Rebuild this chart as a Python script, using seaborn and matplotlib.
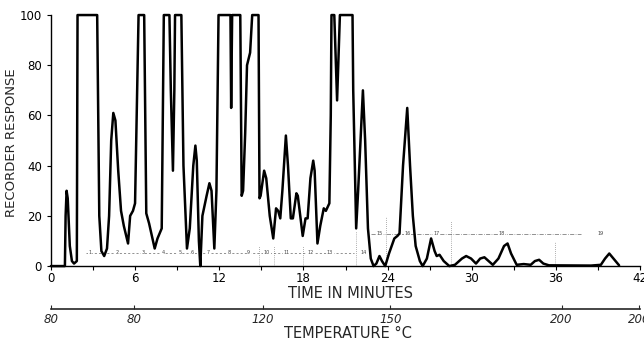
import numpy as np
import pandas as pd
import matplotlib
matplotlib.use("Agg")
import matplotlib.pyplot as plt
import seaborn as sns

# ---- data (time in minutes, recorder response) ----
time_min = [0, 1.0, 1.05, 1.12, 1.2, 1.35, 1.5, 1.65, 1.85, 1.9, 3.3, 3.45, 3.6, 3.8, 4.0, 4.15,
            4.3, 4.45, 4.6, 4.8, 5.0, 5.2, 5.5, 5.65, 5.85, 6.0, 6.25, 6.65, 6.8, 7.0, 7.2, 7.4,
            7.6, 7.9, 8.05, 8.45, 8.55, 8.7, 8.8, 8.85, 9.3, 9.45, 9.7, 9.9, 10.15, 10.3, 10.4,
            10.55, 10.65, 10.8, 11.1, 11.3, 11.45, 11.65, 11.8, 11.95, 12.8, 12.85, 12.92, 13.5,
            13.6, 13.7, 13.85, 13.98, 14.2, 14.35, 14.8, 14.87, 14.95, 15.2, 15.35, 15.6, 15.85,
            16.05, 16.2, 16.35, 16.5, 16.75, 16.9, 17.1, 17.25, 17.5, 17.6, 17.95, 18.15, 18.3,
            18.5, 18.7, 18.8, 19.0, 19.2, 19.45, 19.6, 19.85, 19.95, 20.0, 20.2, 20.4, 20.6,
            21.5, 21.55, 21.76, 21.9, 22.24, 22.4, 22.6, 22.8, 23.0, 23.2, 23.42, 23.6, 23.83,
            24.1, 24.48, 24.7, 24.85, 25.1, 25.4, 25.6, 25.8, 26.0, 26.3, 26.5, 26.8, 27.1,
            27.35, 27.5, 27.7, 28.0, 28.4, 28.8, 29.3, 29.6, 29.95, 30.3, 30.6, 30.9, 31.2,
            31.5, 31.9, 32.3, 32.55, 32.8, 33.2, 33.7, 34.2, 34.5, 34.8, 35.1, 35.5, 38.5,
            39.2, 39.5, 39.8, 40.1, 40.5]
response = [0, 0, 20, 30, 27, 8, 2, 1, 2, 100, 100, 20, 6, 4, 7, 20,
            50, 61, 58, 38, 22, 16, 9, 20, 22, 25, 100, 100, 21, 17, 12, 7,
            11, 15, 100, 100, 70, 38, 70, 100, 100, 40, 7, 15, 40, 48, 42,
            10, 0, 20, 28, 33, 30, 7, 30, 100, 100, 63, 100, 100,
            28, 30, 53, 80, 85, 100, 100, 27, 28, 38, 35, 20, 11,
            23, 22, 19, 30, 52, 40, 19, 19, 29, 28, 12, 19, 19,
            35, 42, 38, 9, 16, 23, 22, 25, 60, 100, 100, 66, 100,
            100, 70, 15, 30, 70, 50, 15, 3, 0, 1, 4, 2, 0,
            5, 11, 12, 13, 40, 63, 40, 20, 8, 2, 0, 3, 11,
            6, 4, 4.5, 2, 0, 0.5, 3, 4, 3, 1, 3, 3.5, 2,
            0.5, 3, 8, 9, 5, 0.5, 0.8, 0.5, 2, 2.5, 1, 0.3, 0.2,
            0.5, 3, 5, 3, 0.3]

time_ticks = [0, 6, 12, 18, 24, 30, 36, 42]
resp_ticks = [0, 20, 40, 60, 80, 100]
temp_tick_pos = [0, 5.9, 15.1, 24.2, 36.4, 41.9]
temp_tick_labels = ["80", "80", "120", "150", "200", "200"]

# fraction markers (faint dashed annotations)
frac_low_pos = [2.8, 4.7, 6.6, 8.0, 9.2, 10.1, 11.2, 12.7, 14.1, 15.4, 16.8, 18.5, 19.9, 22.3]
frac_low_lab = ["1", "2", "3", "4", "5", "6", "7", "8", "9", "10", "11", "12", "13", "14"]
frac_high_pos = [23.4, 25.4, 27.5, 32.1, 39.2]
frac_high_lab = ["15", "16", "17", "18", "19"]
frac_vlines = [14.85, 15.9, 17.95, 21.76, 23.9, 28.5, 35.9]
frac_vtops = [8, 8, 8, 14, 20, 18, 10]

df = pd.DataFrame({"time": time_min, "resp": response})

sns.set_theme(style="white")
plt.rcParams["font.family"] = ["DejaVu Sans"]

fig = plt.figure(figsize=(6.44, 3.42), dpi=100)
ax = fig.add_axes([0.079, 0.222, 0.915, 0.734])

sns.lineplot(data=df, x="time", y="resp", ax=ax, color="black", linewidth=1.8,
             estimator=None, sort=False, clip_on=False)

# faint fraction annotations
ax.plot([frac_low_pos[0] - 0.3, 21.6], [5.3, 5.3], color="#666666", lw=0.5,
        ls=(0, (3, 3)), zorder=1)
ax.plot([22.8, 37.8], [12.8, 12.8], color="#666666", lw=0.5, ls=(0, (6, 2, 1, 2)), zorder=1)
for p, l in zip(frac_low_pos, frac_low_lab):
    ax.text(p, 5.3, l, fontsize=3.5, ha="center", va="center", color="#444444",
            bbox=dict(fc="white", ec="none", pad=0.3))
for p, l in zip(frac_high_pos, frac_high_lab):
    ax.text(p, 12.8, l, fontsize=3.5, ha="center", va="center", color="#444444",
            bbox=dict(fc="white", ec="none", pad=0.3))
for p, t in zip(frac_vlines, frac_vtops):
    ax.plot([p, p], [0, t], color="#666666", lw=0.5, ls=(0, (1, 2)), zorder=1)

ax.set_xlim(0, 42)
ax.set_ylim(0, 100)
ax.set_xticks(time_ticks)
ax.set_xticks(np.arange(0, 43, 3), minor=True)
ax.set_yticks(resp_ticks)
ax.tick_params(axis="both", which="both", direction="out", length=3, width=0.8,
               colors="black", labelsize=8.5, bottom=True, left=True)
ax.tick_params(axis="x", which="minor", length=3)
ax.tick_params(axis="x", pad=1.5)
for s in ["top", "right"]:
    ax.spines[s].set_visible(False)
for s in ["left", "bottom"]:
    ax.spines[s].set_color("black")
    ax.spines[s].set_linewidth(1.0)
ax.set_xlabel("")
ax.set_ylabel("")
fig.text(350 / 644, 1 - 294 / 342, "TIME IN MINUTES", fontsize=10.5,
         ha="center", va="center")
fig.text(12 / 644, 1 - 143 / 342, "RECORDER RESPONSE", fontsize=9.5,
         ha="center", va="center", rotation=90)

# temperature scale
sec = ax.secondary_xaxis(-0.17)
sec.set_xticks(temp_tick_pos)
sec.set_xticklabels(temp_tick_labels, fontstyle="italic")
sec.tick_params(direction="in", length=3, width=0.8, labelsize=8.5, pad=3)
sec.spines["bottom"].set_linewidth(1.2)
fig.text(348 / 644, 1 - 334 / 342, "TEMPERATURE °C", fontsize=10.5,
         ha="center", va="center")

fig.savefig("out.png", dpi=100)
